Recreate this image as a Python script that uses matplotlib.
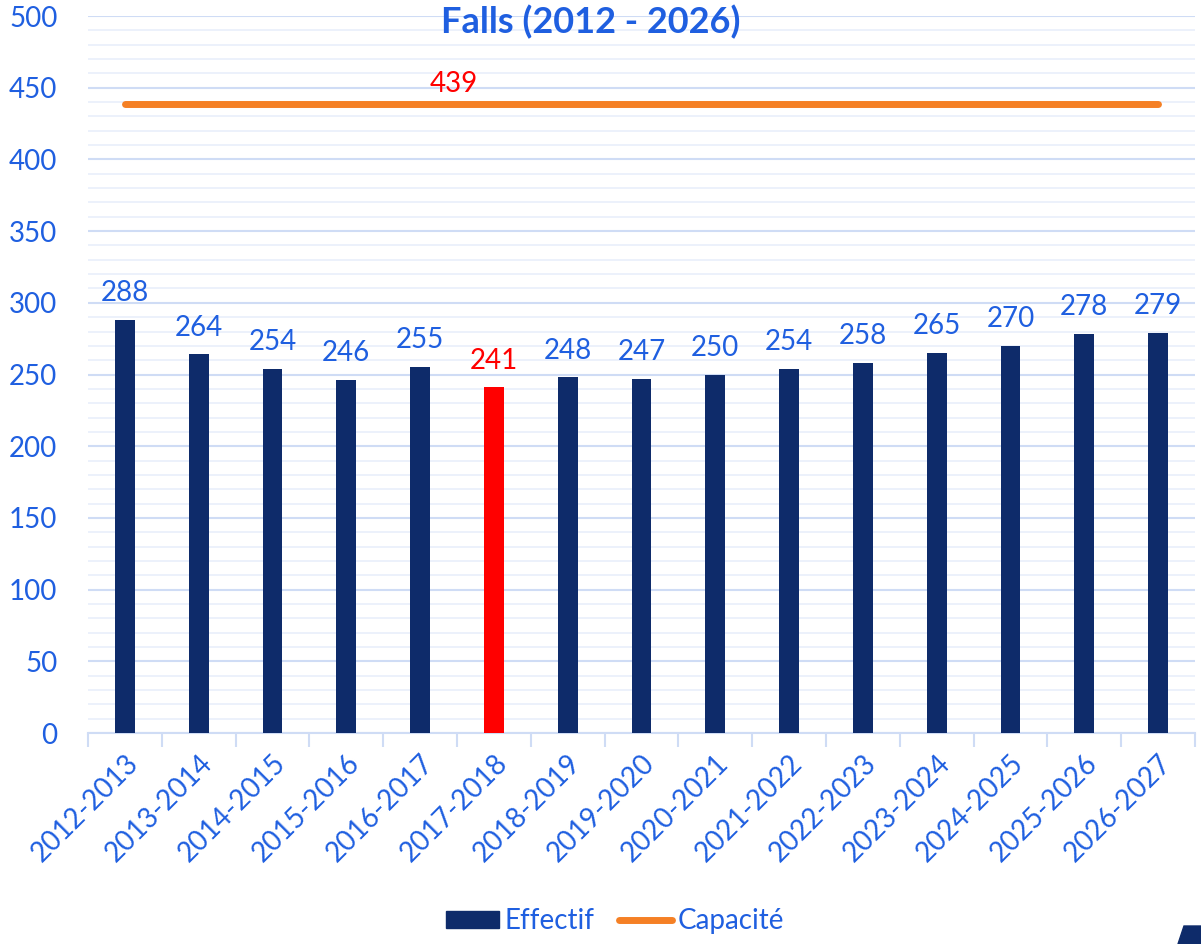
import matplotlib

matplotlib.use("Agg")
import matplotlib.pyplot as plt
import numpy as np
from matplotlib.lines import Line2D
from matplotlib.patches import Patch, Polygon

plt.rcParams["font.family"] = ["Lato", "DejaVu Sans"]

seasons = ["2012-2013", "2013-2014", "2014-2015", "2015-2016", "2016-2017",
           "2017-2018", "2018-2019", "2019-2020", "2020-2021", "2021-2022",
           "2022-2023", "2023-2024", "2024-2025", "2025-2026", "2026-2027"]
effectif = [288, 264, 254, 246, 255, 241, 248, 247, 250, 254, 258, 265, 270, 278, 279]
capacite = [439] * len(seasons)
highlight = "2017-2018"

NAVY = "#0e2b6a"
RED = "#ff0000"
ORANGE = "#f58025"
BLUE_TXT = "#1f5fe0"
GRID_MAJ = "#cfdcf5"
GRID_MIN = "#e9effb"
FS = 20

fig = plt.figure(figsize=(12.01, 9.44), dpi=100)
ax = fig.add_axes([0.0733, 0.2235, 0.9217, 0.7595])

x = np.arange(len(seasons))
colors = [RED if s == highlight else NAVY for s in seasons]
ax.bar(x, effectif, width=0.27, color=colors, zorder=3)
ax.plot(x, capacite, color=ORANGE, lw=5, solid_capstyle="round", zorder=4)

for xi, v, s in zip(x, effectif, seasons):
    ax.annotate(str(v), (xi, v), xytext=(0, 10), textcoords="offset points",
                ha="center", va="bottom", fontsize=FS,
                color=RED if s == highlight else BLUE_TXT)
ax.annotate(str(capacite[0]), (4.45, capacite[0]), xytext=(0, 5),
            textcoords="offset points", ha="center", va="bottom",
            fontsize=FS, color=RED)

ax.set_xlim(-0.5, len(seasons) - 0.5)
ax.set_ylim(0, 500)
ax.set_yticks(np.arange(0, 501, 50))
ax.set_yticks(np.arange(0, 501, 10), minor=True)
ax.grid(axis="y", which="major", color=GRID_MAJ, lw=1.5, zorder=0)
ax.grid(axis="y", which="minor", color=GRID_MIN, lw=1.2, zorder=0)

ax.set_xticks(x)
ax.set_xticklabels(seasons, rotation=45, ha="right", rotation_mode="anchor",
                   fontsize=FS, color=BLUE_TXT)
ax.set_xticks(np.arange(-0.5, len(seasons), 1), minor=True)
ax.tick_params(axis="x", which="major", length=0, pad=12)
ax.tick_params(axis="x", which="minor", length=10, color=GRID_MAJ, width=1.5)
ax.tick_params(axis="y", which="both", length=0, labelsize=FS,
               labelcolor=BLUE_TXT, pad=22)

for side in ("top", "right", "left"):
    ax.spines[side].set_visible(False)
ax.spines["bottom"].set_color(GRID_MAJ)
ax.spines["bottom"].set_linewidth(1.5)

fig.text(0.492, 0.977, "Falls (2012 - 2026)", ha="center", va="center",
         fontsize=26, fontweight="bold", color=BLUE_TXT)

handles = [Patch(color=NAVY, label="Effectif"),
           Line2D([], [], color=ORANGE, lw=5, solid_capstyle="round",
                  label="Capacité")]
fig.legend(handles=handles, loc="center", bbox_to_anchor=(0.512, 0.024),
           ncol=2, frameon=False, fontsize=FS, labelcolor=BLUE_TXT,
           handlelength=1.9, handleheight=0.6, handletextpad=0.2,
           columnspacing=0.9)

# corner fragment in the bottom-right
fig.patches.append(Polygon([[1178 / 1201, 0], [1184 / 1201, 18 / 944],
                            [1, 18 / 944], [1, 0]], closed=True,
                           transform=fig.transFigure, color=NAVY))

fig.savefig("out.png", dpi=100)
